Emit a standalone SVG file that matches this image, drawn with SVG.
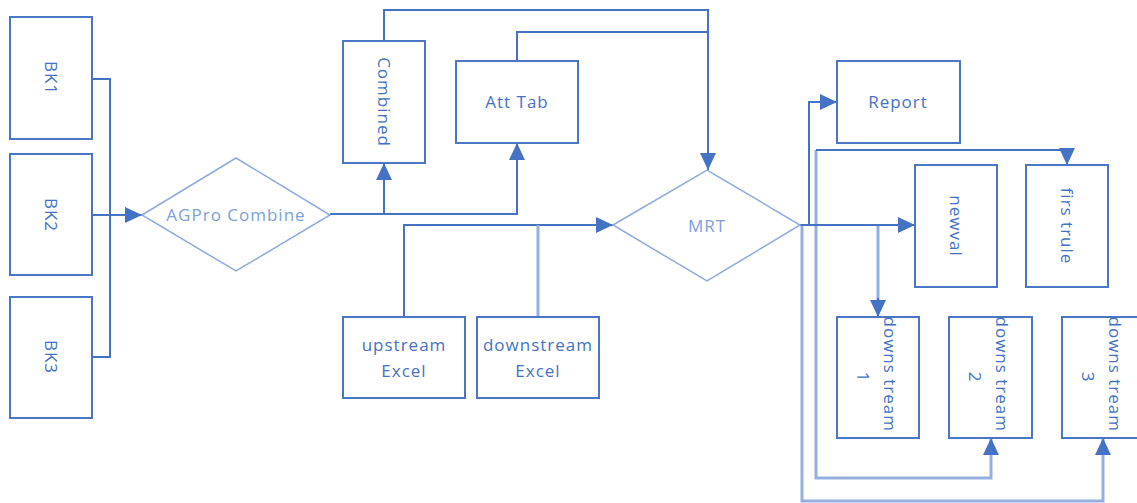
<svg xmlns="http://www.w3.org/2000/svg" width="1137" height="503" viewBox="0 0 1137 503">
  <style>
    .box { fill: #ffffff; stroke: #4A76C6; stroke-width: 2; }
    .dia { fill: #ffffff; stroke: #8FAADC; stroke-width: 1.5; }
    .lbl { font-family: "Open Sans", "Liberation Sans", sans-serif; font-size: 17px; fill: #4472C4; letter-spacing: 1px; text-anchor: middle; dominant-baseline: central; }
    .dlbl { font-family: "Open Sans", "Liberation Sans", sans-serif; font-size: 17px; fill: #7D9FDA; letter-spacing: 1px; text-anchor: middle; dominant-baseline: central; }
    .ln { fill: none; stroke: #4472C4; stroke-width: 2; }
    .lt { fill: none; stroke: #94AFE0; stroke-width: 3; }
  </style>
  <defs>
    <marker id="arr" markerUnits="userSpaceOnUse" markerWidth="17" markerHeight="16" refX="17" refY="8" orient="auto">
      <path d="M0,0 L17,8 L0,16 z" fill="#4472C4"/>
    </marker>
  </defs>

  <rect width="1137" height="503" fill="#ffffff"/>

  <g id="connectors">
    <path class="ln" d="M92,79 H110 V357 H92"/>
    <path class="ln" d="M92,215 H142" marker-end="url(#arr)"/>
    <path class="ln" d="M330,214 H517 V143" marker-end="url(#arr)"/>
    <path class="ln" d="M384,214 V163" marker-end="url(#arr)"/>
    <path class="ln" d="M384,41 V10 H708 V170" marker-end="url(#arr)"/>
    <path class="ln" d="M517,61 V32 H708"/>
    <path class="ln" d="M404,317 V225 H613" marker-end="url(#arr)"/>
    <path class="lt" d="M538,317 V225"/>
    <path class="lt" d="M802,225 V501 H1103 V438" marker-end="url(#arr)"/>
    <path class="lt" d="M816,225 V478 H991 V438" marker-end="url(#arr)"/>
    <path class="lt" d="M816,225 V150"/>
    <path class="ln" d="M816,150 H1067 V165" marker-end="url(#arr)"/>
    <path class="lt" d="M878,225 V300"/>
    <path class="ln" d="M878,298 V317" marker-end="url(#arr)"/>
    <path class="ln" d="M800,225 H915" marker-end="url(#arr)"/>
    <path class="ln" d="M809,225 V102 H837" marker-end="url(#arr)"/>
  </g>

  <g id="bk1">
    <rect class="box" x="10" y="17" width="82" height="122"/>
    <text class="lbl" transform="translate(51,78) rotate(90)">BK1</text>
  </g>
  <g id="bk2">
    <rect class="box" x="10" y="154" width="82" height="121"/>
    <text class="lbl" transform="translate(51,215) rotate(90)">BK2</text>
  </g>
  <g id="bk3">
    <rect class="box" x="10" y="297" width="82" height="121"/>
    <text class="lbl" transform="translate(51,357) rotate(90)">BK3</text>
  </g>

  <g id="agpro-combine">
    <polygon class="dia" points="142,215 236,158 330,215 236,271"/>
    <text class="dlbl" x="236" y="214">AGPro Combine</text>
  </g>

  <g id="combined">
    <rect class="box" x="343" y="41" width="82" height="122"/>
    <text class="lbl" transform="translate(384,102) rotate(90)">Combined</text>
  </g>
  <g id="att-tab">
    <rect class="box" x="456" y="61" width="122" height="82"/>
    <text class="lbl" x="517" y="101">Att Tab</text>
  </g>

  <g id="upstream-excel">
    <rect class="box" x="343" y="317" width="122" height="81"/>
    <text class="lbl" x="404" y="344">upstream</text>
    <text class="lbl" x="404" y="370">Excel</text>
  </g>
  <g id="downstream-excel">
    <rect class="box" x="477" y="317" width="122" height="81"/>
    <text class="lbl" x="538" y="344">downstream</text>
    <text class="lbl" x="538" y="370">Excel</text>
  </g>

  <g id="mrt">
    <polygon class="dia" points="613,225 707,170 800,225 707,281"/>
    <text class="dlbl" x="707" y="225">MRT</text>
  </g>

  <g id="report">
    <rect class="box" x="837" y="61" width="123" height="82"/>
    <text class="lbl" x="898" y="101">Report</text>
  </g>
  <g id="newval">
    <rect class="box" x="915" y="165" width="82" height="122"/>
    <text class="lbl" transform="translate(956,226) rotate(90)">newval</text>
  </g>
  <g id="firstrule">
    <rect class="box" x="1026" y="165" width="82" height="122"/>
    <text class="lbl" transform="translate(1067,226) rotate(90)">firs trule</text>
  </g>

  <g id="downstream-1">
    <rect class="box" x="837" y="317" width="82" height="121"/>
    <text class="lbl" transform="translate(878,377) rotate(90)">
      <tspan x="0" y="-13">downs tream</tspan>
      <tspan x="0" y="14">1</tspan>
    </text>
  </g>
  <g id="downstream-2">
    <rect class="box" x="949" y="317" width="83" height="121"/>
    <text class="lbl" transform="translate(990,377) rotate(90)">
      <tspan x="0" y="-13">downs tream</tspan>
      <tspan x="0" y="14">2</tspan>
    </text>
  </g>
  <g id="downstream-3">
    <rect class="box" x="1062" y="317" width="82" height="121"/>
    <text class="lbl" transform="translate(1103,377) rotate(90)">
      <tspan x="0" y="-13">downs tream</tspan>
      <tspan x="0" y="14">3</tspan>
    </text>
  </g>
</svg>
